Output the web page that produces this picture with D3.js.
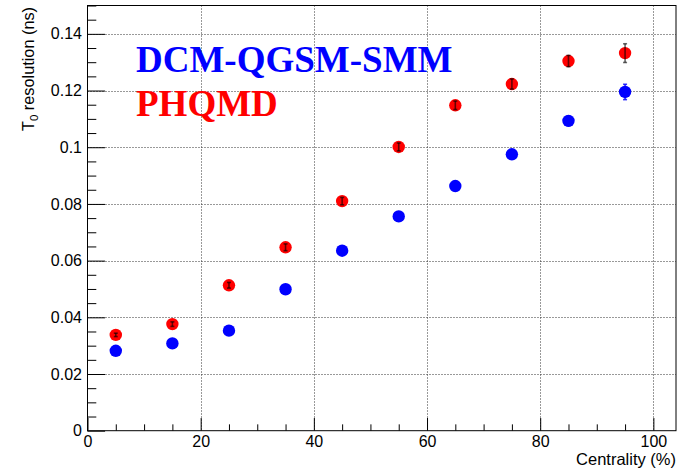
<!DOCTYPE html>
<html>
<head>
<meta charset="utf-8">
<script src="https://cdn.jsdelivr.net/npm/d3@7"></script>
<style>
  html, body { margin: 0; padding: 0; background: #fff; }
  svg { display: block; }
  .sans { font-family: "Liberation Sans", Arial, Helvetica, sans-serif; }
  .model { font-family: "Liberation Serif", "Times New Roman", serif; font-weight: bold; }
</style>
</head>
<body>
<svg id="chart" width="679" height="471"></svg>
<script>
// Centrality bins (bin centres, %)
const centrality = [5, 15, 25, 35, 45, 55, 65, 75, 85, 95];

// T0 resolution (ns) per model, with statistical errors
const dcmValues   = [0.0282, 0.0308, 0.0353, 0.0499, 0.0635, 0.0756, 0.0863, 0.0975, 0.1093, 0.1195];
const dcmErrors   = [0.0004, 0.0005, 0.0006, 0.0008, 0.0009, 0.0011, 0.0012, 0.0014, 0.0017, 0.0027];
const phqmdValues = [0.0338, 0.0376, 0.0513, 0.0647, 0.0810, 0.1001, 0.1148, 0.1223, 0.1304, 0.1332];
const phqmdErrors = [0.0006, 0.0008, 0.0010, 0.0012, 0.0013, 0.0014, 0.0015, 0.0018, 0.0020, 0.0033];

// Axis ticks
const xMajorTicks = [0, 20, 40, 60, 80, 100];
const yMajorTicks = [0, 0.02, 0.04, 0.06, 0.08, 0.1, 0.12, 0.14];
const yTickLabels = ["0", "0.02", "0.04", "0.06", "0.08", "0.1", "0.12", "0.14"];

const seriesNames = ["DCM-QGSM-SMM", "PHQMD"];
const seriesColors = ["#0000ff", "#ff0000"];

const frame = { left: 87.5, right: 676, top: 5.5, bottom: 430.7 };
const W = frame.right - frame.left, H = frame.bottom - frame.top;

const svg = d3.select("#chart");

const x = d3.scaleLinear().domain([0, 104]).range([frame.left, frame.right]);
const y = d3.scaleLinear().domain([0, 0.15]).range([frame.bottom, frame.top]);

const xMinor = d3.range(0, 104, 5).filter(v => v % 20 !== 0);
const yMinor = d3.range(0, 0.1501, 0.005).map(v => +v.toFixed(3)).filter(v => Math.round(v * 1000) % 20 !== 0);

// Dotted grid at the major ticks
const grid = svg.append("g").attr("stroke", "#333").attr("stroke-width", 1).attr("stroke-dasharray", "1,2");
grid.selectAll("line.gx").data(xMajorTicks.filter(v => v > 0)).join("line")
  .attr("x1", d => Math.round(x(d)) + 0.5).attr("x2", d => Math.round(x(d)) + 0.5)
  .attr("y1", frame.top).attr("y2", frame.bottom);
grid.selectAll("line.gy").data(yMajorTicks.filter(v => v > 0)).join("line")
  .attr("y1", d => Math.round(y(d)) + 0.5).attr("y2", d => Math.round(y(d)) + 0.5)
  .attr("x1", frame.left).attr("x2", frame.right);

// Axes with inward ticks
const xTickLen = 12.7, yTickLen = 17.6;
const xAxis = svg.append("g").attr("transform", `translate(0,${frame.bottom})`)
  .call(d3.axisBottom(x).tickValues(xMajorTicks).tickSizeInner(-xTickLen).tickSizeOuter(0).tickPadding(5));
xAxis.select(".domain").remove();
xAxis.selectAll("text").attr("class", "sans").attr("font-size", 16).attr("fill", "#000");
svg.append("g").attr("transform", `translate(0,${frame.bottom})`)
  .call(d3.axisBottom(x).tickValues(xMinor).tickSizeInner(-xTickLen / 2).tickSizeOuter(0).tickFormat(""))
  .select(".domain").remove();

const yAxis = svg.append("g").attr("transform", `translate(${frame.left},0)`)
  .call(d3.axisLeft(y).tickValues(yMajorTicks).tickSizeInner(-yTickLen).tickSizeOuter(0)
    .tickPadding(5.5).tickFormat((d, i) => yTickLabels[i]));
yAxis.select(".domain").remove();
yAxis.selectAll("text").attr("class", "sans").attr("font-size", 16).attr("fill", "#000");
svg.append("g").attr("transform", `translate(${frame.left},0)`)
  .call(d3.axisLeft(y).tickValues(yMinor).tickSizeInner(-yTickLen / 2).tickSizeOuter(0).tickFormat(""))
  .select(".domain").remove();

svg.selectAll(".tick line").attr("stroke", "#000").attr("stroke-width", 1);

// Frame
svg.append("rect").attr("x", frame.left).attr("y", frame.top).attr("width", W).attr("height", H)
  .attr("fill", "none").attr("stroke", "#000").attr("stroke-width", 1);

// Axis titles
svg.append("text").attr("class", "sans").attr("x", frame.right).attr("y", 465).attr("text-anchor", "end")
  .attr("font-size", 16.5).attr("fill", "#000").text("Centrality (%)");

const yt = svg.append("text").attr("class", "sans").attr("transform", "translate(34,7) rotate(-90)")
  .attr("text-anchor", "end").attr("font-size", 16.3).attr("fill", "#000");
yt.append("tspan").text("T");
yt.append("tspan").attr("font-size", 11.5).attr("dy", 4).text("0");
yt.append("tspan").attr("dy", -4).text(" resolution (ns)");

// Soft edge for markers
const defs = svg.append("defs");
defs.append("filter").attr("id", "soft").attr("x", "-50%").attr("y", "-50%").attr("width", "200%").attr("height", "200%")
  .append("feGaussianBlur").attr("stdDeviation", 0.6);

// Data points with error bars
const series = [
  { values: dcmValues, errors: dcmErrors, color: seriesColors[0], barColor: seriesColors[0], barOpacity: 0.8 },
  { values: phqmdValues, errors: phqmdErrors, color: seriesColors[1], barColor: "#000", barOpacity: 0.6 }
];
series.forEach(s => {
  const pts = centrality.map((c, i) => ({ c, v: s.values[i], e: s.errors[i] }));
  const g = svg.append("g");
  g.selectAll("circle").data(pts).join("circle")
    .attr("cx", d => x(d.c)).attr("cy", d => y(d.v)).attr("r", 6.2)
    .attr("fill", s.color).attr("filter", "url(#soft)");
  const eb = g.append("g").attr("stroke", s.barColor).attr("stroke-opacity", s.barOpacity).attr("stroke-width", 1.6);
  eb.selectAll("line.v").data(pts).join("line")
    .attr("x1", d => x(d.c)).attr("x2", d => x(d.c))
    .attr("y1", d => y(d.v - d.e)).attr("y2", d => y(d.v + d.e));
  eb.selectAll("line.lo").data(pts).join("line")
    .attr("x1", d => x(d.c) - 2).attr("x2", d => x(d.c) + 2)
    .attr("y1", d => y(d.v - d.e)).attr("y2", d => y(d.v - d.e));
  eb.selectAll("line.hi").data(pts).join("line")
    .attr("x1", d => x(d.c) - 2).attr("x2", d => x(d.c) + 2)
    .attr("y1", d => y(d.v + d.e)).attr("y2", d => y(d.v + d.e));
});

// Model labels
svg.selectAll("text.model").data(seriesNames).join("text")
  .attr("class", "model")
  .attr("x", 136).attr("y", (d, i) => 71.5 + i * 44)
  .attr("font-size", 37)
  .attr("fill", (d, i) => seriesColors[i])
  .text(d => d);
</script>
</body>
</html>
